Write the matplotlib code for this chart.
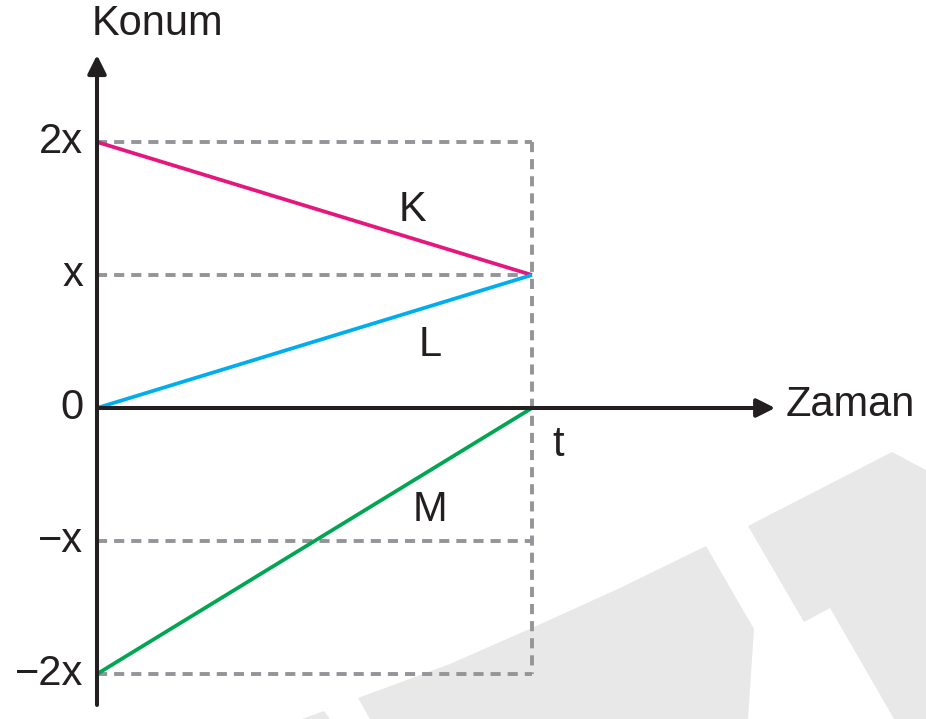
import matplotlib
matplotlib.use("Agg")
import matplotlib.pyplot as plt
from matplotlib.patches import Polygon

plt.rcParams['font.family'] = ['Liberation Sans', 'DejaVu Sans']

# motion data (position in units of x, time in units of t)
names = ['K', 'L', 'M']
start_pos = [2, 0, -2]
end_pos = [1, 1, 0]
t_end = 1
colors = ['#e5177e', '#00aeef', '#00a651']
label_pos = [(0.724, 1.49), (0.766, 0.47), (0.766, -0.77)]

tick_vals = [2, 1, 0, -1, -2]
tick_labels = ['2x', 'x', '0', '\u2212x', '\u22122x']

ink = '#231f20'
dash_col = '#939598'
fs = 30

fig = plt.figure(figsize=(9.26, 7.19), dpi=100)
ax = fig.add_axes([0, 0, 1, 1])
ax.set_xlim(-97 / 435, 829 / 435)
ax.set_ylim(-311 / 133, 408 / 133)
ax.axis('off')

# faint background watermark shapes (pixel coords, decoration only)
W, H = 926, 719
shapes = [
    [(892, 452), (748, 526), (804, 622), (830, 608), (894, 719), (926, 719), (926, 470)],
    [(706, 546), (620, 588), (534, 627), (450, 664), (358, 698), (370, 719), (748, 719), (754, 629)],
    [(302, 719), (324, 711), (330, 719)],
]
for s in shapes:
    ax.add_patch(Polygon([(x / W, 1 - y / H) for x, y in s], closed=True,
                         transform=fig.transFigure, facecolor='#e8e8e8',
                         edgecolor='none', zorder=0))

# dashed guides
for v in tick_vals:
    if v != 0:
        ax.plot([0, t_end], [v, v], color=dash_col, lw=2.8, dashes=(2.6, 1.8), zorder=2)
ax.plot([t_end, t_end], [max(tick_vals), min(tick_vals)], color=dash_col, lw=2.8,
        dashes=(2.6, 1.8), zorder=2)

# motion lines
for n, s, e, c, (lx, ly) in zip(names, start_pos, end_pos, colors, label_pos):
    ax.plot([0, t_end], [s, e], color=c, lw=2.7, solid_capstyle='butt', zorder=3)
    ax.text(lx, ly, n, fontsize=fs, color=ink, ha='center', va='center')

# axes with arrows
ax.annotate('', xy=(0, 2.654), xytext=(0, -2.233),
            arrowprops=dict(arrowstyle='-|>', color=ink, lw=2.9, mutation_scale=28,
                            shrinkA=0, shrinkB=0), zorder=4)
ax.annotate('', xy=(1.559, 0), xytext=(0, 0),
            arrowprops=dict(arrowstyle='-|>', color=ink, lw=2.9, mutation_scale=28,
                            shrinkA=0, shrinkB=0), zorder=4)

for v, lab in zip(tick_vals, tick_labels):
    ax.text(-0.032, v, lab, fontsize=fs, color=ink, ha='right', va='center')

ax.text(0.140, 2.89, 'Konum', fontsize=fs, color=ink, ha='center', va='center')
ax.text(1.584, 0.02, 'Zaman', fontsize=fs, color=ink, ha='left', va='center')
ax.text(1.06, -0.28, 't', fontsize=fs, color=ink, ha='center', va='center')

fig.savefig('out.png', dpi=100)
